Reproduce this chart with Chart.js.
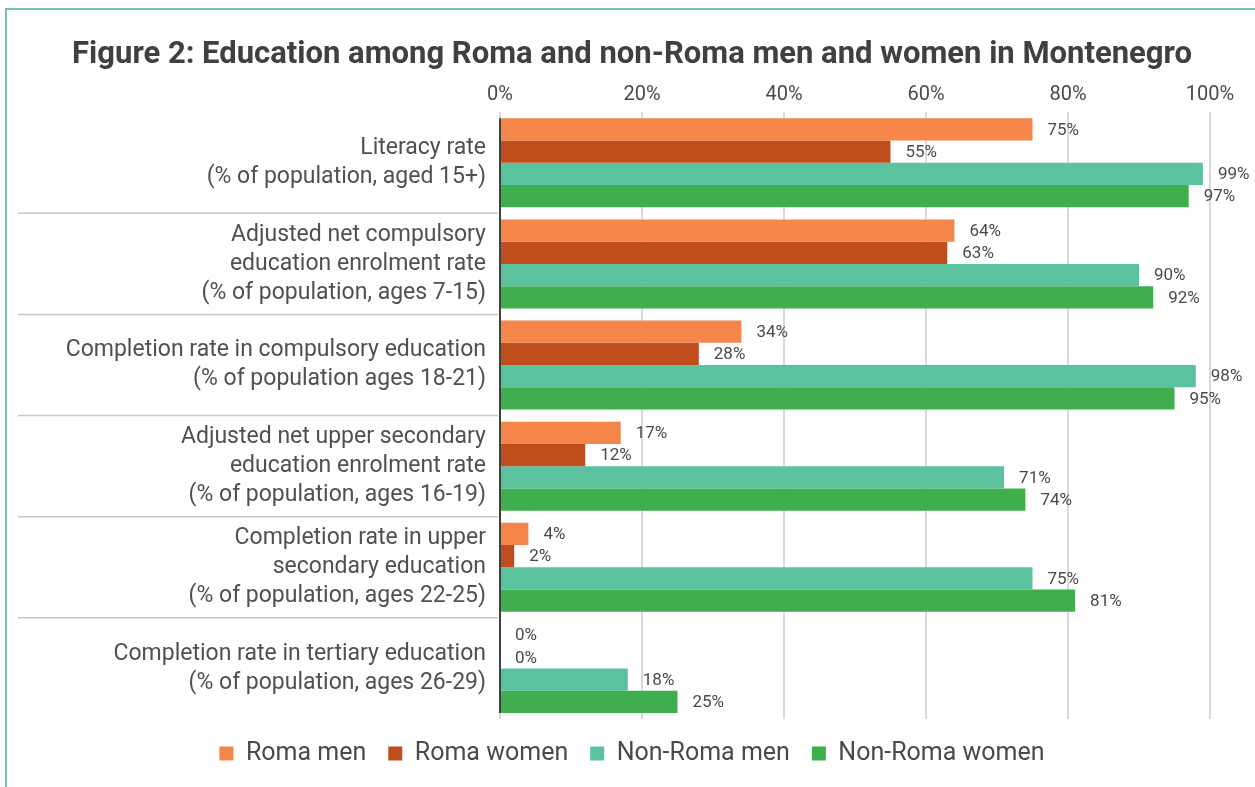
<!DOCTYPE html>
<html>
<head>
<meta charset="utf-8">
<script src="https://cdn.jsdelivr.net/npm/chart.js@4.4.0/dist/chart.umd.min.js"></script>
<style>
  body { margin: 0; background: #fff; overflow: hidden; }
  #frame { position: absolute; left: 5px; top: 8px; width: 1300px; height: 900px; border: 2px solid #6cc7a8; }
  #wrap { position: absolute; left: 0; top: 0; width: 1255px; height: 787px; }
</style>
</head>
<body>
<div id="frame"></div>
<div id="wrap"><canvas id="chart" width="1255" height="787"></canvas></div>
<script>
const categories = [
  ['Literacy rate', '(% of population, aged 15+)'],
  ['Adjusted net compulsory', 'education enrolment rate', '(% of population, ages 7-15)'],
  ['Completion rate in compulsory education', '(% of population ages 18-21)'],
  ['Adjusted net upper secondary', 'education enrolment rate', '(% of population, ages 16-19)'],
  ['Completion rate in upper', 'secondary education', '(% of population, ages 22-25)'],
  ['Completion rate in tertiary education', '(% of population, ages 26-29)']
];
const romaMen = [75, 64, 34, 17, 4, 0];
const romaWomen = [55, 63, 28, 12, 2, 0];
const nonRomaMen = [99, 90, 98, 71, 75, 18];
const nonRomaWomen = [97, 92, 95, 74, 81, 25];
const tickValues = [0, 20, 40, 60, 80, 100];

const FONT = 'Roboto, "DejaVu Sans", sans-serif';
const TEXT = '#4a4a4a';

// value labels to the right of each bar
const valueLabels = {
  id: 'valueLabels',
  afterDatasetsDraw(chart) {
    const ctx = chart.ctx;
    ctx.save();
    ctx.font = '17px ' + FONT;
    ctx.fillStyle = TEXT;
    ctx.textAlign = 'left';
    ctx.textBaseline = 'middle';
    chart.data.datasets.forEach((ds, i) => {
      chart.getDatasetMeta(i).data.forEach((bar, j) => {
        ctx.fillText(ds.data[j] + '%', bar.x + 15, bar.y + 1);
      });
    });
    ctx.restore();
  }
};

// separators between categories in the label column + axis line spanning the bars
const separators = {
  id: 'separators',
  afterDraw(chart) {
    const y = chart.scales.y;
    const ctx = chart.ctx;
    ctx.save();
    ctx.strokeStyle = '#c6c6c6';
    ctx.lineWidth = 1.5;
    for (let i = 0; i < categories.length - 1; i++) {
      const py = (y.getPixelForValue(i) + y.getPixelForValue(i + 1)) / 2;
      ctx.beginPath();
      ctx.moveTo(18, py);
      ctx.lineTo(498, py);
      ctx.stroke();
    }
    const first = chart.getDatasetMeta(0).data[0];
    const lastMeta = chart.getDatasetMeta(chart.data.datasets.length - 1);
    const last = lastMeta.data[lastMeta.data.length - 1];
    ctx.strokeStyle = '#404040';
    ctx.lineWidth = 2;
    ctx.beginPath();
    ctx.moveTo(chart.chartArea.left, first.y - first.height / 2);
    ctx.lineTo(chart.chartArea.left, last.y + last.height / 2);
    ctx.stroke();
    ctx.restore();
  }
};

new Chart(document.getElementById('chart'), {
  type: 'bar',
  data: {
    labels: categories,
    datasets: [
      { label: 'Roma men', data: romaMen, backgroundColor: '#f4864a' },
      { label: 'Roma women', data: romaWomen, backgroundColor: '#c04e1c' },
      { label: 'Non-Roma men', data: nonRomaMen, backgroundColor: '#5bc29e' },
      { label: 'Non-Roma women', data: nonRomaWomen, backgroundColor: '#3fae4c' }
    ]
  },
  options: {
    indexAxis: 'y',
    responsive: false,
    animation: false,
    layout: { padding: { left: 54, right: 45, top: 0, bottom: 11 } },
    datasets: { bar: { categoryPercentage: 0.88, barPercentage: 1.0 } },
    scales: {
      x: {
        position: 'top',
        min: 0,
        max: 100,
        afterBuildTicks: s => { s.ticks = tickValues.map(v => ({ value: v })); },
        afterFit: s => { s.height = 38; },
        border: { display: false },
        grid: { color: '#d9d9d9', lineWidth: 2, drawTicks: false },
        ticks: {
          padding: 5,
          color: TEXT,
          font: { family: FONT, size: 20 },
          callback: v => v + '%'
        }
      },
      y: {
        afterFit: s => { s.width = 446; },
        border: { display: false },
        grid: { display: false },
        ticks: {
          padding: 6,
          color: '#505050',
          font: { family: FONT, size: 23, lineHeight: 1.26 }
        }
      }
    },
    plugins: {
      title: {
        display: true,
        text: 'Figure 2: Education among Roma and non-Roma men and women in Montenegro',
        color: '#404040',
        font: { family: FONT, size: 31, weight: 'bold' },
        padding: { top: 37, bottom: 0 }
      },
      legend: {
        position: 'bottom',
        labels: {
          boxWidth: 14,
          boxHeight: 14,
          padding: 22,
          color: TEXT,
          font: { family: FONT, size: 25 }
        }
      },
      tooltip: { enabled: false }
    }
  },
  plugins: [valueLabels, separators]
});
</script>
</body>
</html>
